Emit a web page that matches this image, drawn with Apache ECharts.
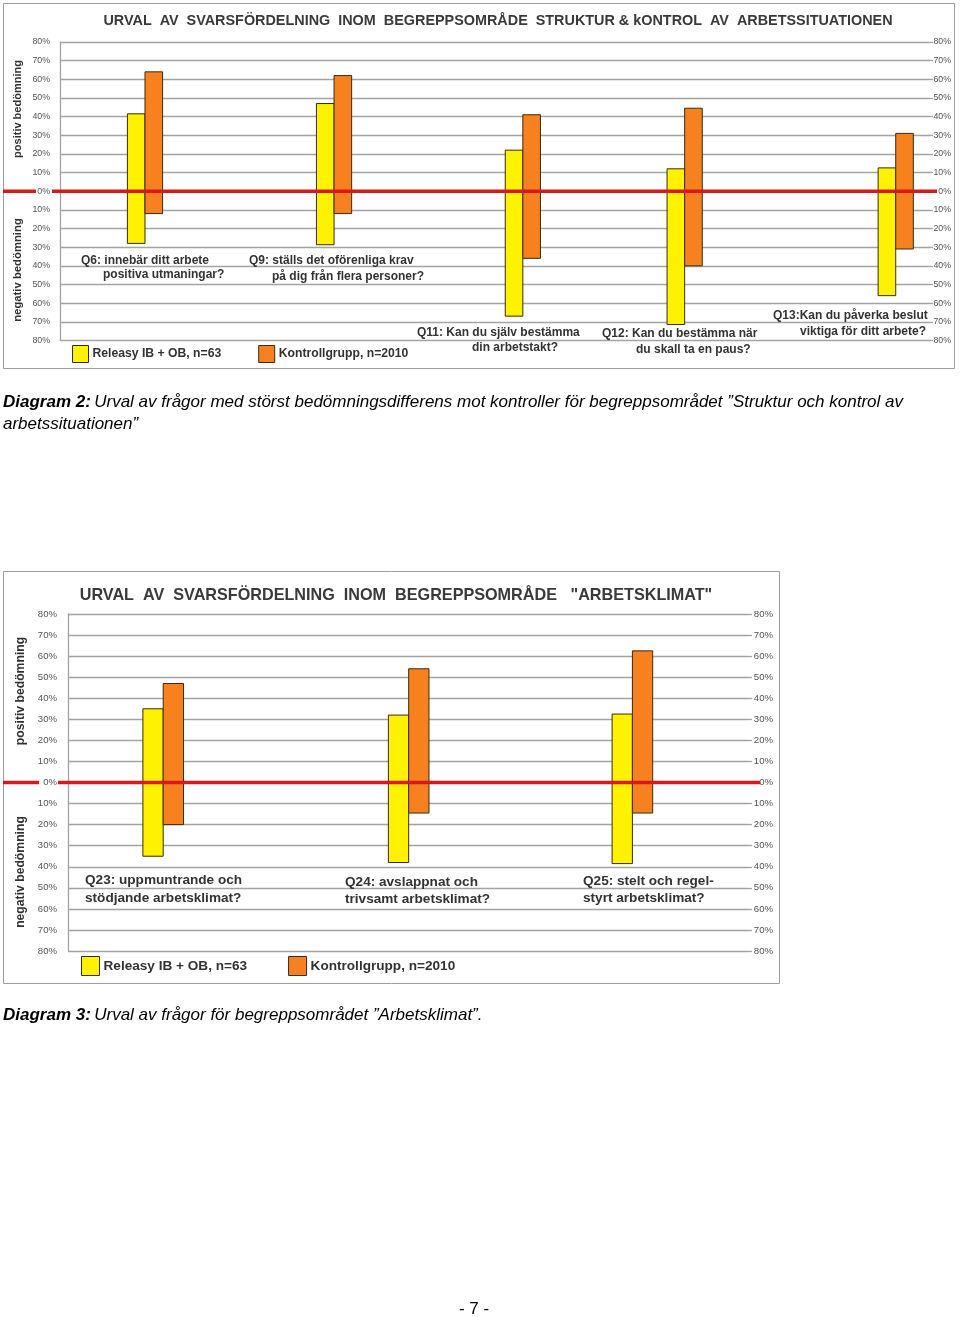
<!DOCTYPE html>
<html>
<head>
<meta charset="utf-8">
<script src="https://cdn.jsdelivr.net/npm/echarts@6/dist/echarts.min.js"></script>
<style>
html,body{margin:0;padding:0;background:#fff;}
#main{width:960px;height:1317px;}
</style>
</head>
<body>
<div id="main"></div>
<script>
// ---------- DATA ----------
const seriesNames = ['Releasy IB + OB, n=63', 'Kontrollgrupp, n=2010'];
const yTicks = [-80, -70, -60, -50, -40, -30, -20, -10, 0, 10, 20, 30, 40, 50, 60, 70, 80];

// Diagram 2: Struktur & kontrol
const categories1 = [
  'Q6: innebär ditt arbete\npositiva utmaningar?',
  'Q9: ställs det oförenliga krav\npå dig från flera personer?',
  'Q11: Kan du själv bestämma\ndin arbetstakt?',
  'Q12: Kan du bestämma när\ndu skall ta en paus?',
  'Q13:Kan du påverka beslut\nviktiga för ditt arbete?'
];
const releasyPos1  = [41.5, 47, 22, 12, 12.5];
const releasyNeg1  = [28, 28.7, 67, 71.5, 56];
const kontrollPos1 = [64, 62, 41, 44.5, 31];
const kontrollNeg1 = [12, 12, 36, 40, 31];

// Diagram 3: Arbetsklimat
const categories2 = [
  'Q23: uppmuntrande och\nstödjande arbetsklimat?',
  'Q24: avslappnat och\ntrivsamt arbetsklimat?',
  'Q25: stelt och regel-\nstyrt arbetsklimat?'
];
const releasyPos2  = [35, 32, 32.5];
const releasyNeg2  = [35, 38, 38.5];
const kontrollPos2 = [47, 54, 62.5];
const kontrollNeg2 = [20, 14.5, 14.5];

const title1 = 'URVAL  AV  SVARSFÖRDELNING  INOM  BEGREPPSOMRÅDE  STRUKTUR & kONTROL  AV  ARBETSSITUATIONEN';
const title2 = 'URVAL  AV  SVARSFÖRDELNING  INOM  BEGREPPSOMRÅDE   "ARBETSKLIMAT"';
const axisNamePos = 'positiv bedömning';
const axisNameNeg = 'negativ bedömning';
const caption1a = 'Urval av frågor med störst bedömningsdifferens mot kontroller för begreppsområdet ”Struktur och kontrol av';
const caption1b = 'arbetssituationen”';
const caption2 = 'Urval av frågor för begreppsområdet ”Arbetsklimat”.';
const pageNo = '- 7 -';

// ---------- LAYOUT (positions / sizes / styles) ----------
const FONT = 'Liberation Sans';
const YELLOW = '#FFF200', ORANGE = '#F7801F', EDGE = '#3a2a10';
const GRID_C = '#a3a3a3', RED = '#d7191c';
// horizontal slot of each question pair, in % of plot width
const slots1 = [9.77, 31.5, 53.2, 71.8, 96.06];
const slots2 = [14.0, 50.1, 83.0];
const barW1 = 17.6, barW2 = 20.3;
const labelPos1 = [[81,261,103,275],[249,261,272,277],[417,333,472,348],[602,334,636,350],[773,316,800,332]];
const labelPos2 = [[85,880,85,898],[345,882,345,899],[583,881,583,898]];

const chart = echarts.init(document.getElementById('main'), null, {renderer:'canvas'});

function pct(v){ return Math.abs(v) + '%'; }

function yAxes(gridIndex, fs, leftMargin, rightMargin, tickLen){
  const lab = {
    fontFamily: FONT, fontSize: fs, color: '#555',
    formatter: pct
  };
  return [
    { type:'value', gridIndex, position:'left', min:-80, max:80, interval:10,
      axisLine:{show:true, lineStyle:{color:GRID_C, width:1.3}},
      axisTick:{show:false},
      splitLine:{show:true, lineStyle:{color:GRID_C, width:1.3}},
      axisLabel:Object.assign({margin:leftMargin}, lab) },
    { type:'value', gridIndex, position:'right', min:-80, max:80, interval:10,
      axisLine:{show:false},
      axisTick:{show:true, length:tickLen, lineStyle:{color:GRID_C, width:1.3}},
      splitLine:{show:false},
      axisLabel:Object.assign({margin:rightMargin, align:'right'}, lab) }
  ];
}

function barRenderer(color, side, w){
  return function(params, api){
    const x = api.value(0), pos = api.value(1), neg = api.value(2);
    const top = api.coord([x, pos]);
    const bot = api.coord([x, -neg]);
    const left = side < 0 ? top[0] - w : top[0];
    return { type:'rect',
      shape:{x:left, y:top[1], width:w, height:bot[1]-top[1]},
      style:{fill:color, stroke:EDGE, lineWidth:1} };
  };
}

function pairData(slots, pos, neg){
  return slots.map((s,i)=>[s, pos[i], neg[i]]);
}

const series = [
  {type:'custom', name:seriesNames[0], xAxisIndex:0, yAxisIndex:0, itemStyle:{color:YELLOW},
   renderItem:barRenderer(YELLOW,-1,barW1), data:pairData(slots1, releasyPos1, releasyNeg1), z:3},
  {type:'custom', name:seriesNames[1], xAxisIndex:0, yAxisIndex:0, itemStyle:{color:ORANGE},
   renderItem:barRenderer(ORANGE, 1,barW1), data:pairData(slots1, kontrollPos1, kontrollNeg1), z:3},
  {type:'custom', name:seriesNames[0], xAxisIndex:1, yAxisIndex:2, itemStyle:{color:YELLOW},
   renderItem:barRenderer(YELLOW,-1,barW2), data:pairData(slots2, releasyPos2, releasyNeg2), z:3},
  {type:'custom', name:seriesNames[1], xAxisIndex:1, yAxisIndex:2, itemStyle:{color:ORANGE},
   renderItem:barRenderer(ORANGE, 1,barW2), data:pairData(slots2, kontrollPos2, kontrollNeg2), z:3}
];

function legendCfg(left, top, iw, ih, gap, fs){
  return { left, top, padding:0, itemWidth:iw, itemHeight:ih, itemGap:gap, selectedMode:false,
    textStyle:{fontFamily:FONT, fontSize:fs, fontWeight:'bold', color:'#333', padding:[0,0,0,-1]},
    data:[
      {name:seriesNames[0], icon:'rect', itemStyle:{color:YELLOW, borderColor:EDGE, borderWidth:1}},
      {name:seriesNames[1], icon:'rect', itemStyle:{color:ORANGE, borderColor:EDGE, borderWidth:1}}
    ]};
}

const option = {
  animation:false,
  backgroundColor:'#fff',
  grid:[
    {left:60, top:42, width:870, height:298.4},
    {left:68, top:614, width:680, height:337}
  ],
  xAxis:[
    {type:'value', gridIndex:0, min:0, max:100, show:false},
    {type:'value', gridIndex:1, min:0, max:100, show:false}
  ],
  yAxis: yAxes(0, 8.8, 10, 21, 3).concat(yAxes(1, 9.6, 11, 25, 4)),
  legend:[ legendCfg(72,345,16,17,37,12.2), legendCfg(81,956,18,19,41,13.6) ],
  series
};
chart.setOption(option);

// ---------- graphics bound to the axes ----------
const y0a = chart.convertToPixel({yAxisIndex:0}, 0);
const y0b = chart.convertToPixel({yAxisIndex:2}, 0);

function txt(x, y, text, fs, opts){
  return Object.assign({type:'text', x, y, z:50,
    style:Object.assign({text, fontFamily:FONT, fontSize:fs, fontWeight:'bold', fill:'#333',
      textAlign:'left', textVerticalAlign:'middle'}, (opts&&opts.style)||{})},
    opts&&opts.extra||{});
}
function vtxt(x, y, text, fs){
  return {type:'text', x, y, rotation:Math.PI/2, z:50,
    style:{text, fontFamily:FONT, fontSize:fs, fontWeight:'bold', fill:'#333',
      textAlign:'center', textVerticalAlign:'middle'}};
}
function redSeg(x1, x2, y){
  return {type:'line', z:40, shape:{x1, y1:y, x2, y2:y}, style:{stroke:RED, lineWidth:3.5}};
}

const g = [];
// frames
g.push({type:'rect', z:1, shape:{x:3.5, y:3.5, width:951, height:365}, style:{fill:'none', stroke:'#9e9e9e', lineWidth:1}});
g.push({type:'rect', z:1, shape:{x:3.5, y:571.5, width:776, height:412}, style:{fill:'none', stroke:'#9e9e9e', lineWidth:1}});
// titles
g.push(txt(498, 21, title1, 14.4, {style:{textAlign:'center', fill:'#3a3a3a'}}));
g.push(txt(396, 596, title2, 16.2, {style:{textAlign:'center', fill:'#3a3a3a'}}));
// axis side names
g.push(vtxt(18, 109, axisNamePos, 11));
g.push(vtxt(18, 270, axisNameNeg, 11.3));
g.push(vtxt(21, 691, axisNamePos, 12.2));
g.push(vtxt(21, 872, axisNameNeg, 12.2));
// red zero lines
g.push(redSeg(3, 36, y0a)); g.push(redSeg(52, 937, y0a));
g.push(redSeg(3, 39, y0b)); g.push(redSeg(58, 760, y0b));
// question labels
categories1.forEach((c,i)=>{
  const L = c.split('\n'), p = labelPos1[i];
  g.push(txt(p[0], p[1], L[0], 12)); g.push(txt(p[2], p[3], L[1], 12));
});
categories2.forEach((c,i)=>{
  const L = c.split('\n'), p = labelPos2[i];
  g.push(txt(p[0], p[1], L[0], 13.6)); g.push(txt(p[2], p[3], L[1], 13.6));
});
// captions
const capRich = {
  b:{fontFamily:FONT, fontSize:17, fontWeight:'bold', fontStyle:'italic', fill:'#000'},
  i:{fontFamily:FONT, fontSize:17, fontStyle:'italic', fill:'#000'}
};
g.push({type:'text', x:3, y:402, z:50, style:{text:'{b|Diagram 2:} {i|'+caption1a+'}', rich:capRich, textVerticalAlign:'middle'}});
g.push({type:'text', x:3, y:424, z:50, style:{text:'{i|'+caption1b+'}', rich:capRich, textVerticalAlign:'middle'}});
g.push({type:'text', x:3, y:1015, z:50, style:{text:'{b|Diagram 3:} {i|'+caption2+'}', rich:capRich, textVerticalAlign:'middle'}});
g.push({type:'text', x:474, y:1309, z:50, style:{text:pageNo, fontFamily:FONT, fontSize:17, fill:'#000', textAlign:'center', textVerticalAlign:'middle'}});

chart.setOption({graphic:g});
</script>
</body>
</html>
